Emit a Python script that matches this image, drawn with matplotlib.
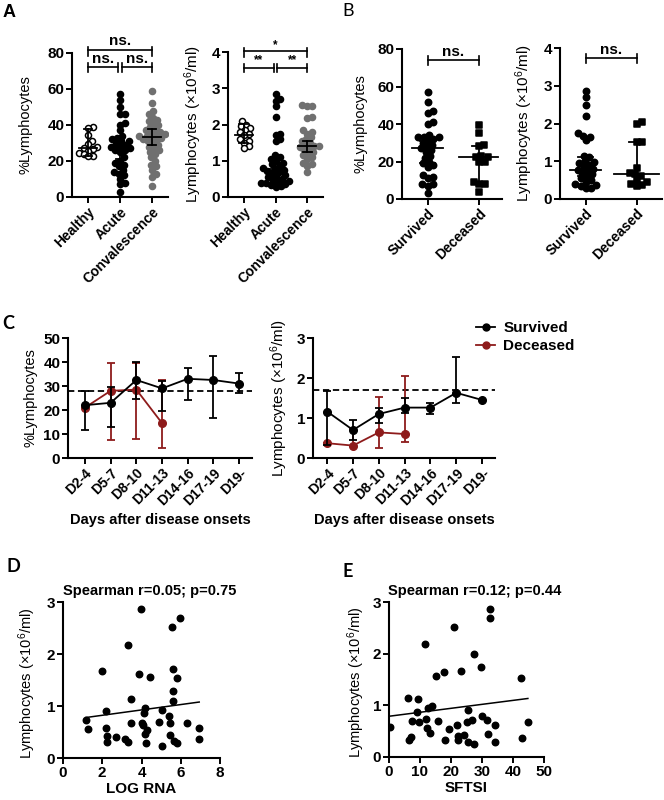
import numpy as np
import matplotlib
matplotlib.use('Agg')
import matplotlib.pyplot as plt
from matplotlib.lines import Line2D

plt.rcParams['font.family'] = ['Liberation Sans', 'DejaVu Sans']
plt.rcParams['mathtext.fontset'] = 'custom'
plt.rcParams['mathtext.rm'] = 'Liberation Sans'
plt.rcParams['mathtext.it'] = 'Liberation Sans:italic'
plt.rcParams['mathtext.bf'] = 'Liberation Sans:bold'

# ---- panel A: healthy / acute / convalescence ----
groups_a = ['Healthy', 'Acute', 'Convalescence']
pct_healthy = [38.8, 38.5, 34.5, 31, 29.5, 28, 27, 26.5, 25.5, 24.5, 24, 23, 22.5]
pct_acute = [57, 54, 50, 46, 46, 41, 40, 37, 34, 33, 32, 31, 31, 30, 29, 28, 28, 27,
             26, 26, 25, 22, 20, 19, 18, 17, 15, 14, 13, 12, 10, 8, 7, 3]
pct_conv = [59, 52, 48, 46, 44, 43, 42, 41, 40, 39, 38, 37, 36, 36, 35, 35, 34, 34, 33,
            33, 32, 32, 31, 30, 29, 28, 27, 26, 25, 24, 22, 20, 18, 17, 15, 13, 11, 6]
pct_a_med = [27, 27.5, 33.5]
pct_a_lo = [23, 21, 29]
pct_a_hi = [38, 32, 38]

cnt_healthy = [2.1, 2.0, 1.95, 1.9, 1.85, 1.8, 1.75, 1.7, 1.6, 1.55, 1.5, 1.4, 1.35]
cnt_acute = [2.85, 2.7, 2.65, 2.5, 2.2, 1.75, 1.7, 1.6, 1.55, 1.15, 1.1, 1.05, 1.0, 0.95,
             0.9, 0.85, 0.8, 0.78, 0.75, 0.72, 0.7, 0.65, 0.6, 0.58, 0.55, 0.5, 0.48, 0.45,
             0.42, 0.4, 0.38, 0.35, 0.32, 0.3, 0.28]
cnt_conv = [2.55, 2.52, 2.5, 2.2, 2.18, 1.85, 1.8, 1.75, 1.65, 1.6, 1.55, 1.5, 1.45, 1.42,
            1.4, 1.38, 1.35, 1.3, 1.25, 1.2, 1.15, 1.1, 1.05, 0.95, 0.9, 0.85, 0.7]
cnt_a_med = [1.72, 0.78, 1.4]
cnt_a_lo = [1.5, 0.6, 1.25]
cnt_a_hi = [2.02, 1.05, 1.55]

# ---- panel B: survived / deceased ----
groups_b = ['Survived', 'Deceased']
pct_surv = [57, 52, 47, 46, 41, 40, 34, 33, 33, 33, 32, 31, 30, 29, 28, 27, 26, 25, 23,
            22, 20, 19, 18, 17, 13, 12, 11, 8, 8, 7, 3]
pct_dec = [39.5, 35, 29, 28.5, 23, 22.5, 22.5, 20, 20, 9, 8, 8, 4]
pct_b_med = [27, 22.5]
pct_b_lo = [19, 8.5]
pct_b_hi = [31, 28.5]

cnt_surv = [2.85, 2.7, 2.5, 2.2, 1.75, 1.68, 1.65, 1.55, 1.15, 1.1, 1.0, 0.98, 0.95, 0.9,
            0.85, 0.8, 0.78, 0.75, 0.7, 0.65, 0.6, 0.55, 0.5, 0.45, 0.4, 0.38, 0.35, 0.3, 0.28]
cnt_dec = [2.05, 2.0, 1.52, 1.5, 0.82, 0.7, 0.65, 0.6, 0.5, 0.45, 0.4, 0.38, 0.35]
cnt_b_med = [0.78, 0.65]
cnt_b_lo = [0.6, 0.42]
cnt_b_hi = [1.1, 1.52]

# ---- panel C: time course ----
days = ['D2-4', 'D5-7', 'D8-10', 'D11-13', 'D14-16', 'D17-19', 'D19-']
c_pct_surv = [22, 23, 32.5, 29, 33, 32.5, 31]
c_pct_surv_lo = [11.5, 13, 24.5, 19.5, 24, 16.5, 27]
c_pct_surv_hi = [28, 29.5, 40, 32, 37.5, 42.5, 35.5]
c_pct_dec = [21, 28, 28.5, 14.5]
c_pct_dec_lo = [21, 7.5, 8, 4]
c_pct_dec_hi = [21, 39.5, 39.5, 32.5]
c_pct_healthy = 28

c_cnt_surv = [1.16, 0.7, 1.1, 1.26, 1.26, 1.63, 1.45]
c_cnt_surv_lo = [0.33, 0.45, 0.87, 1.12, 1.09, 1.38, 1.45]
c_cnt_surv_hi = [1.68, 0.95, 1.25, 1.5, 1.38, 2.53, 1.45]
c_cnt_dec = [0.37, 0.31, 0.64, 0.6]
c_cnt_dec_lo = [0.37, 0.31, 0.24, 0.41]
c_cnt_dec_hi = [0.37, 0.72, 1.53, 2.05]
c_cnt_healthy = 1.7

# ---- panel D: log RNA vs lymphocytes ----
d_rna = [1.16, 1.29, 2.0, 2.21, 2.21, 2.25, 2.25, 2.69, 3.18, 3.29, 3.29, 3.46, 3.46, 3.88,
         3.98, 4.03, 4.09, 4.12, 4.19, 4.19, 4.22, 4.29, 4.44, 4.9, 5.04, 5.07, 5.41, 5.45,
         5.45, 5.53, 5.63, 5.62, 5.62, 5.65, 5.79, 5.82, 5.96, 6.3, 6.94, 6.93]
d_lym = [0.74, 0.56, 1.67, 0.91, 0.58, 0.42, 0.31, 0.4, 0.37, 0.31, 2.18, 1.13, 0.67, 1.62,
         2.86, 0.68, 0.64, 0.87, 0.96, 0.46, 0.28, 0.53, 1.56, 0.69, 0.93, 0.24, 0.8, 0.67,
         0.44, 2.51, 1.72, 1.29, 1.1, 0.32, 1.54, 0.29, 2.69, 0.67, 0.58, 0.37]

# ---- panel E: SFTSI vs lymphocytes ----
e_sftsi = [0.2, 6.1, 6.3, 7.0, 7.5, 9.0, 9.5, 9.6, 11.6, 12.0, 12.4, 12.7, 13.2, 13.9, 15.3,
           15.8, 17.6, 18.1, 19.2, 20.9, 21.8, 22.3, 22.4, 23.1, 24.2, 25.2, 25.5, 25.6,
           26.9, 27.4, 27.5, 29.8, 30.0, 31.6, 31.8, 32.5, 32.7, 34.3, 34.3, 42.6, 42.9, 44.8]
e_lym = [0.59, 1.15, 0.32, 0.39, 0.69, 0.87, 1.12, 0.67, 2.19, 0.74, 0.56, 0.95, 0.46, 0.98,
         1.57, 0.69, 1.64, 0.32, 0.54, 2.51, 0.61, 0.41, 0.32, 1.67, 0.43, 0.68, 0.91, 0.30,
         0.72, 0.26, 2.0, 1.74, 0.80, 0.71, 0.45, 2.70, 2.87, 0.61, 0.29, 1.53, 0.37, 0.68]

W, H = 664, 800
fig = plt.figure(figsize=(W / 100, H / 100), dpi=100)
RED = '#8e1b1b'
GRAY = '#707070'


def px_axes(x0, y0, x1, y1):
    ax = fig.add_axes([x0 / W, 1 - y1 / H, (x1 - x0) / W, (y1 - y0) / H])
    for s in ['top', 'right']:
        ax.spines[s].set_visible(False)
    for s in ['left', 'bottom']:
        ax.spines[s].set_linewidth(1.5)
    ax.tick_params(width=1.4, length=4, pad=1.5)
    ax.tick_params(axis='y', labelsize=11)
    ax.tick_params(axis='x', labelsize=10)
    return ax


def bold_ticks(ax):
    for lab in ax.get_xticklabels() + ax.get_yticklabels():
        lab.set_fontweight('bold')


def swarm(vals, xstep, ystep):
    # simple beeswarm: spread equal-ish values sideways so dots do not overlap
    vals = np.asarray(vals, dtype=float)
    placed = []
    offs = np.zeros(len(vals))
    for i in np.argsort(vals):
        y = vals[i] / ystep
        cands = [0.0]
        for px, py in placed:
            d = abs(py - y)
            if d < 1:
                w = np.sqrt(1 - d * d)
                cands += [px + w, px - w]
        cands.sort(key=abs)
        for c in cands:
            if all((c - px) ** 2 + (y - py) ** 2 >= 0.999 for px, py in placed):
                break
        placed.append((c, y))
        offs[i] = c * xstep
    return offs


def dot_column(ax, x, vals, xstep, ystep, marker='o', color='black', face=None, s=19):
    offs = swarm(vals, xstep, ystep)
    fc = color if face is None else face
    ax.scatter(x + offs, vals, s=s, marker=marker, facecolors=fc, edgecolors=color,
               linewidths=1.1, zorder=3)


def med_bar(ax, x, med, lo, hi, mw=0.28, cw=0.14):
    ax.plot([x - mw, x + mw], [med, med], color='black', lw=1.3, zorder=4)
    ax.plot([x, x], [lo, hi], color='black', lw=1.3, zorder=4)
    for v in (lo, hi):
        ax.plot([x - cw, x + cw], [v, v], color='black', lw=1.3, zorder=4)


def bracket(ax, x0, x1, y, up, down, text, fs=11, tpad=0.0):
    ax.plot([x0, x1], [y, y], color='black', lw=1.2, clip_on=False)
    for xx in (x0, x1):
        ax.plot([xx, xx], [y + up, y - down], color='black', lw=1.2, clip_on=False)
    ax.text((x0 + x1) / 2, y + tpad, text, ha='center', va='bottom', fontsize=fs,
            fontweight='bold', clip_on=False)


lym_label = r'Lymphocytes (×10$^{6}$/ml)'

# ================= A left =================
ax = px_axes(72, 53, 168, 197)
ax.set_xlim(-0.5, 2.5)
ax.set_ylim(0, 80)
ax.set_yticks([0, 20, 40, 60, 80])
dot_column(ax, 0, pct_healthy, 0.16, 3.0, face='white')
dot_column(ax, 1, pct_acute, 0.16, 3.0)
dot_column(ax, 2, pct_conv, 0.16, 3.0, color=GRAY)
for i in range(3):
    med_bar(ax, i, pct_a_med[i], pct_a_lo[i], pct_a_hi[i])
ax.set_xticks(range(3))
ax.set_xticklabels(groups_a, rotation=45, ha='right', rotation_mode='anchor')
bold_ticks(ax)
ax.set_ylabel('%Lymphocytes', fontsize=10.5)
ax.yaxis.set_label_coords(-0.41, 0.5)
bracket(ax, 0, 2, 81.7, 1.5, 3.5, 'ns.', tpad=0.8)
bracket(ax, 0, 0.95, 72.2, 2.5, 2.5, 'ns.', tpad=0.8)
bracket(ax, 1.05, 2, 72.2, 2.5, 2.5, 'ns.', tpad=0.8)

# ================= A right =================
ax = px_axes(228, 52, 323, 197)
ax.set_xlim(-0.5, 2.5)
ax.set_ylim(0, 4)
ax.set_yticks([0, 1, 2, 3, 4])
dot_column(ax, 0, cnt_healthy, 0.16, 0.15, face='white')
dot_column(ax, 1, cnt_acute, 0.16, 0.15)
dot_column(ax, 2, cnt_conv, 0.16, 0.15, color=GRAY)
for i in range(3):
    med_bar(ax, i, cnt_a_med[i], cnt_a_lo[i], cnt_a_hi[i])
ax.set_xticks(range(3))
ax.set_xticklabels(groups_a, rotation=45, ha='right', rotation_mode='anchor')
bold_ticks(ax)
ax.set_ylabel(lym_label, fontsize=11)
ax.yaxis.set_label_coords(-0.25, 0.5)
bracket(ax, 0, 2, 4.03, 0.07, 0.17, '*', fs=8.5, tpad=-0.02)
bracket(ax, 0, 0.95, 3.56, 0.12, 0.12, '**', fs=8.5, tpad=0.05)
bracket(ax, 1.05, 2, 3.56, 0.12, 0.12, '**', fs=8.5, tpad=0.05)

# ================= B left =================
ax = px_axes(402, 49, 502, 199)
ax.set_xlim(-0.5, 1.45)
ax.set_ylim(0, 80)
ax.set_yticks([0, 20, 40, 60, 80])
dot_column(ax, 0, pct_surv, 0.11, 3.0, s=21)
dot_column(ax, 1, pct_dec, 0.11, 3.0, marker='s', s=21)
med_bar(ax, 0, pct_b_med[0], pct_b_lo[0], pct_b_hi[0], mw=0.3, cw=0.14)
med_bar(ax, 1, pct_b_med[1], pct_b_lo[1], pct_b_hi[1], mw=0.38, cw=0.14)
ax.set_xticks(range(2))
ax.set_xticklabels(groups_b, rotation=45, ha='right', rotation_mode='anchor')
bold_ticks(ax)
ax.set_ylabel('%Lymphocytes', fontsize=10.5)
ax.yaxis.set_label_coords(-0.35, 0.5)
bracket(ax, 0, 1, 74, 2.5, 2.5, 'ns.', tpad=0.8)

# ================= B right =================
ax = px_axes(560, 48, 662, 199)
ax.set_xlim(-0.5, 1.5)
ax.set_ylim(0, 4)
ax.set_yticks([0, 1, 2, 3, 4])
dot_column(ax, 0, cnt_surv, 0.11, 0.15, s=21)
dot_column(ax, 1, cnt_dec, 0.11, 0.15, marker='s', s=21)
med_bar(ax, 0, cnt_b_med[0], cnt_b_lo[0], cnt_b_hi[0], mw=0.3, cw=0.14)
med_bar(ax, 1, cnt_b_med[1], cnt_b_lo[1], cnt_b_hi[1], mw=0.45, cw=0.14)
ax.set_xticks(range(2))
ax.set_xticklabels(groups_b, rotation=45, ha='right', rotation_mode='anchor')
bold_ticks(ax)
ax.set_ylabel(lym_label, fontsize=11)
ax.yaxis.set_label_coords(-0.245, 0.5)
bracket(ax, 0, 1, 3.73, 0.12, 0.12, 'ns.', tpad=0.04)


# ================= C =================
def time_course(ax, surv, slo, shi, dec, dlo, dhi, healthy):
    xs = np.arange(len(surv))
    xd = np.arange(len(dec))
    ax.axhline(healthy, color='black', lw=1.3, ls=(0, (3.5, 2)), zorder=1)
    ax.errorbar(xd, dec, yerr=[np.array(dec) - np.array(dlo), np.array(dhi) - np.array(dec)],
                color=RED, marker='o', ms=5.5, lw=1.3, capsize=3, capthick=1.3, zorder=2)
    ax.errorbar(xs, surv, yerr=[np.array(surv) - np.array(slo), np.array(shi) - np.array(surv)],
                color='black', marker='o', ms=5.5, lw=1.3, capsize=3, capthick=1.3, zorder=3)
    ax.set_xticks(xs)
    ax.set_xticklabels(days, rotation=45, ha='right', rotation_mode='anchor')
    bold_ticks(ax)
    ax.set_xlabel('Days after disease onsets', fontsize=10.5, fontweight='bold', labelpad=4)


ax = px_axes(68, 338, 252, 458)
time_course(ax, c_pct_surv, c_pct_surv_lo, c_pct_surv_hi,
            c_pct_dec, c_pct_dec_lo, c_pct_dec_hi, c_pct_healthy)
ax.set_xlim(-0.66, 6.5)
ax.set_ylim(0, 50)
ax.set_yticks([0, 10, 20, 30, 40, 50])
bold_ticks(ax)
ax.set_ylabel('%Lymphocytes', fontsize=10.5)
ax.yaxis.set_label_coords(-0.165, 0.5)

ax = px_axes(313, 338, 495, 458)
time_course(ax, c_cnt_surv, c_cnt_surv_lo, c_cnt_surv_hi,
            c_cnt_dec, c_cnt_dec_lo, c_cnt_dec_hi, c_cnt_healthy)
ax.set_xlim(-0.55, 6.5)
ax.set_ylim(0, 3)
ax.set_yticks([0, 1, 2, 3])
bold_ticks(ax)
ax.set_ylabel(lym_label, fontsize=11)
ax.yaxis.set_label_coords(-0.125, 0.5)
handles = [Line2D([], [], color='black', marker='o', ms=5, lw=1.3),
           Line2D([], [], color=RED, marker='o', ms=5, lw=1.3)]
leg = ax.legend(handles, ['Survived', 'Deceased'], loc='upper left',
                bbox_to_anchor=(0.86, 1.19), frameon=False, handlelength=1.3,
                handletextpad=0.5, labelspacing=0.25, borderaxespad=0,
                prop={'weight': 'bold', 'size': 11})


# ================= D / E =================
def corr_panel(ax, x, y, title):
    ax.scatter(x, y, s=22, color='black', zorder=3)
    k, b = np.polyfit(x, y, 1)
    xx = np.array([min(x), max(x)])
    ax.plot(xx, k * xx + b, color='black', lw=1.1)
    ax.set_title(title, fontsize=10.5, fontweight='bold', pad=5)
    ax.set_ylim(0, 3)
    ax.set_yticks([0, 1, 2, 3])
    ax.tick_params(axis='x', labelsize=11)
    ax.set_ylabel(lym_label, fontsize=10.5)


ax = px_axes(63, 602, 220, 758)
corr_panel(ax, d_rna, d_lym, 'Spearman r=0.05; p=0.75')
ax.set_xlim(0, 8)
ax.set_xticks([0, 2, 4, 6, 8])
bold_ticks(ax)
ax.set_xlabel('LOG RNA', fontsize=11, fontweight='bold', labelpad=2)
ax.yaxis.set_label_coords(-0.16, 0.48)
ax.title.set_x(0.55)

ax = px_axes(389, 602, 544, 757)
corr_panel(ax, e_sftsi, e_lym, 'Spearman r=0.12; p=0.44')
ax.set_xlim(0, 50)
ax.set_xticks([0, 10, 20, 30, 40, 50])
bold_ticks(ax)
ax.set_xlabel('SFTSI', fontsize=11, fontweight='bold', labelpad=2)
ax.yaxis.set_label_coords(-0.142, 0.48)
ax.title.set_x(0.55)

# panel letters
fig.text(3 / W, 1 - 4 / H, 'A', fontsize=13, fontweight='bold', va='top', ha='left')
fig.text(342 / W, 1 - 3 / H, 'B', fontsize=13, va='top', ha='left', family=['Lato', 'DejaVu Sans'])
fig.text(2 / W, 1 - 315 / H, 'C', fontsize=13, fontweight='bold', va='top', ha='left',
         family=['Lato', 'DejaVu Sans'])
fig.text(6 / W, 1 - 558 / H, 'D', fontsize=13, fontweight='bold', va='top', ha='left',
         family=['Lato', 'DejaVu Sans'])
fig.text(342 / W, 1 - 563 / H, 'E', fontsize=13, fontweight='bold', va='top', ha='left',
         family=['Lato', 'DejaVu Sans'])

fig.savefig('out.png', dpi=100)
